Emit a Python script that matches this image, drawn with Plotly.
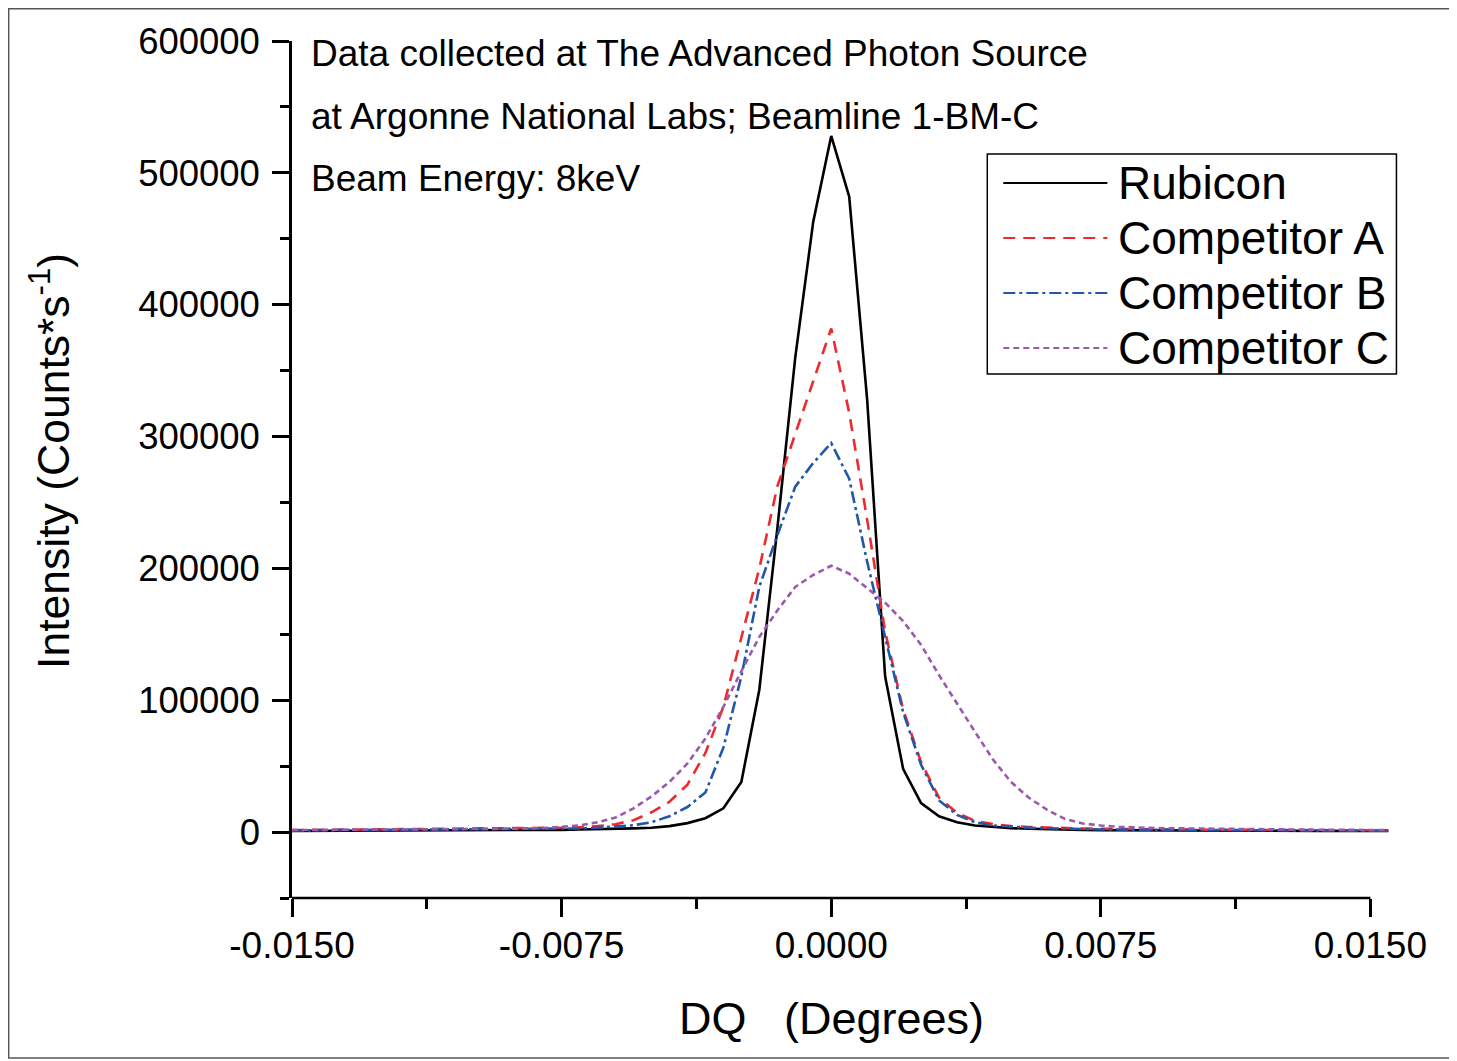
import plotly.graph_objects as go

# ---------------- data ----------------
dq = [-0.015, -0.0135, -0.012, -0.0105, -0.009, -0.008,
      -0.0075, -0.007, -0.0065, -0.006, -0.0055, -0.005, -0.0045, -0.004,
      -0.0035, -0.003, -0.0025, -0.002, -0.0015, -0.001, -0.0005, 0.0,
      0.0005, 0.001, 0.0015, 0.002, 0.0025, 0.003, 0.0035, 0.004,
      0.0045, 0.005, 0.0055, 0.006, 0.0065, 0.007, 0.0075,
      0.008, 0.009, 0.0105, 0.012, 0.0135, 0.015, 0.0155]

rubicon = [800, 900, 1000, 1100, 1300, 1500,
           1700, 1900, 2100, 2400, 2800, 3300, 4500, 6800,
           10500, 18000, 38000, 108000, 230000, 360000, 463000, 528000,
           482000, 328000, 118000, 48000, 22000, 12000, 7500, 5000,
           3800, 3000, 2500, 2100, 1900, 1700, 1500,
           1400, 1300, 1100, 1000, 900, 800, 800]

competitor_a = [1500, 1800, 2000, 2300, 2700, 3000,
                3300, 3700, 4500, 6000, 9000, 15000, 23000, 36000,
                60000, 95000, 147000, 200000, 262000, 302000, 343000, 382000,
                318000, 237000, 152000, 93000, 53000, 26000, 14500, 8500,
                6000, 4500, 3800, 3300, 3000, 2700, 2500,
                2300, 2000, 1800, 1600, 1400, 1300, 1300]

competitor_b = [1200, 1400, 1600, 1800, 2000, 2200,
                2400, 2800, 3300, 4000, 5200, 7500, 12000, 19000,
                30000, 64000, 118000, 186000, 225000, 262000, 280000, 295000,
                268000, 205000, 147000, 91000, 51000, 24000, 13000, 7500,
                5000, 4000, 3300, 2900, 2500, 2200, 2000,
                1900, 1700, 1500, 1300, 1200, 1100, 1100]

competitor_c = [1500, 1700, 1900, 2100, 2500, 3000,
                4000, 5000, 7500, 11000, 18000, 27000, 38000, 52000,
                71000, 95000, 122000, 148000, 168000, 186000, 195000, 202000,
                196000, 185000, 174000, 160000, 142000, 119000, 97000, 76000,
                55000, 38000, 26000, 17000, 10000, 6500, 5000,
                4000, 3000, 2500, 2000, 1800, 1600, 1500]

series_names = ["Rubicon", "Competitor A", "Competitor B", "Competitor C"]
series_values = [rubicon, competitor_a, competitor_b, competitor_c]

x_tickvals = [-0.015, -0.0075, 0.0, 0.0075, 0.015]
x_ticktext = ["-0.0150", "-0.0075", "0.0000", "0.0075", "0.0150"]
x_minorvals = [-0.01125, -0.00375, 0.00375, 0.01125]
y_tickvals = [0, 100000, 200000, 300000, 400000, 500000, 600000]
y_ticktext = ["0", "100000", "200000", "300000", "400000", "500000", "600000"]
y_minorvals = [-50000, 50000, 150000, 250000, 350000, 450000, 550000]

note_lines = ["Data collected at The Advanced Photon Source",
              "at Argonne National Labs; Beamline 1-BM-C",
              "Beam Energy: 8keV"]

# ---------------- styling ----------------
LW = 2.6
styles = [
    dict(color="#000000", width=LW, dash="solid"),
    dict(color="#ee2a2e", width=LW, dash="12px,8px"),
    dict(color="#2256aa", width=LW, dash="12px,4px,3px,4px"),
    dict(color="#9b59ad", width=LW, dash="6px,4px"),
]

FONT = "Liberation Sans, Arial, sans-serif"
OFF = 8                      # page body margin of the html output
W, H = 1457 - OFF, 1061 - OFF
L_PX, T_PX = 292 - OFF, 41 - OFF
X_RANGE = [-0.015, 0.0156]
Y_RANGE = [-50000, 600000]
PX_PER_X = 269.5 / 0.0075
plot_w = (X_RANGE[1] - X_RANGE[0]) * PX_PER_X
plot_h = 857
R_PX = W - L_PX - plot_w
B_PX = H - T_PX - plot_h


def px_to_paper_x(px):
    return (px - OFF - L_PX) / plot_w


def px_to_paper_y(py):
    return (T_PX + plot_h - (py - OFF)) / plot_h


fig = go.Figure()
for name, vals, st in zip(series_names, series_values, styles):
    fig.add_trace(go.Scatter(x=dq, y=vals, mode="lines", name=name,
                             line=st, showlegend=False))

fig.update_layout(
    width=W, height=H,
    margin=dict(l=L_PX, r=R_PX, t=T_PX, b=B_PX, pad=0),
    paper_bgcolor="white", plot_bgcolor="white",
    font=dict(family=FONT, color="black"),
)

fig.update_xaxes(
    range=X_RANGE, showgrid=False, zeroline=False, showline=False,
    tickmode="array", tickvals=x_tickvals, ticktext=x_ticktext,
    ticks="outside", ticklen=18, tickwidth=2.5, tickcolor="black",
    ticklabelstandoff=-3,
    tickfont=dict(size=37, family=FONT, color="black"),
    minor=dict(tickmode="array", tickvals=x_minorvals,
               ticks="outside", ticklen=10, tickwidth=2.5, tickcolor="black",
               showgrid=False),
)
fig.update_yaxes(
    range=Y_RANGE, showgrid=False, zeroline=False,
    showline=True, linewidth=2.5, linecolor="black",
    tickmode="array", tickvals=y_tickvals, ticktext=y_ticktext,
    ticks="outside", ticklen=17, tickwidth=2.5, tickcolor="black",
    ticklabelstandoff=5,
    tickfont=dict(size=36.5, family=FONT, color="black"),
    minor=dict(tickmode="array", tickvals=y_minorvals,
               ticks="outside", ticklen=9, tickwidth=2.5, tickcolor="black",
               showgrid=False),
)

# x-axis line only across the labelled span
fig.add_shape(type="line", xref="x", yref="paper",
              x0=x_tickvals[0], x1=x_tickvals[-1], y0=0, y1=0,
              line=dict(color="black", width=2.5))

# outer frame
fig.add_shape(type="rect", xref="paper", yref="paper",
              x0=px_to_paper_x(8.8), x1=px_to_paper_x(1455),
              y0=px_to_paper_y(1058), y1=px_to_paper_y(8.8),
              line=dict(color="#555555", width=1.5), layer="below")

# axis titles
fig.add_annotation(text="DQ   (Degrees)", xref="x", yref="paper",
                   x=0.0, y=px_to_paper_y(1018), showarrow=False,
                   xanchor="center", yanchor="middle",
                   font=dict(size=45, family=FONT, color="black"))
fig.add_annotation(text="Intensity (Counts*s<sup>-1</sup>)", xref="paper", yref="paper",
                   x=px_to_paper_x(50), y=px_to_paper_y(461), showarrow=False,
                   textangle=-90, xanchor="center", yanchor="middle",
                   font=dict(size=44.5, family=FONT, color="black"))

# notes
for line_txt, py in zip(note_lines, [54, 116, 178]):
    fig.add_annotation(text=line_txt, xref="paper", yref="paper",
                       x=px_to_paper_x(309), y=px_to_paper_y(py), showarrow=False,
                       xanchor="left", yanchor="middle",
                       font=dict(size=37, family=FONT, color="black"))

# legend (drawn manually to reproduce the long line samples)
fig.add_shape(type="rect", xref="paper", yref="paper",
              x0=px_to_paper_x(987), x1=px_to_paper_x(1396),
              y0=px_to_paper_y(374), y1=px_to_paper_y(154),
              line=dict(color="black", width=1.5), fillcolor="white")
for name, st, py in zip(series_names, styles, [183, 238, 293, 348]):
    fig.add_shape(type="line", xref="paper", yref="paper",
                  x0=px_to_paper_x(1003), x1=px_to_paper_x(1107),
                  y0=px_to_paper_y(py), y1=px_to_paper_y(py),
                  line=dict(color=st["color"], width=2.2, dash=st["dash"]))
    fig.add_annotation(text=name, xref="paper", yref="paper",
                       x=px_to_paper_x(1116), y=px_to_paper_y(py), showarrow=False,
                       xanchor="left", yanchor="middle",
                       font=dict(size=46, family=FONT, color="black"))

fig.write_html("out.html")
